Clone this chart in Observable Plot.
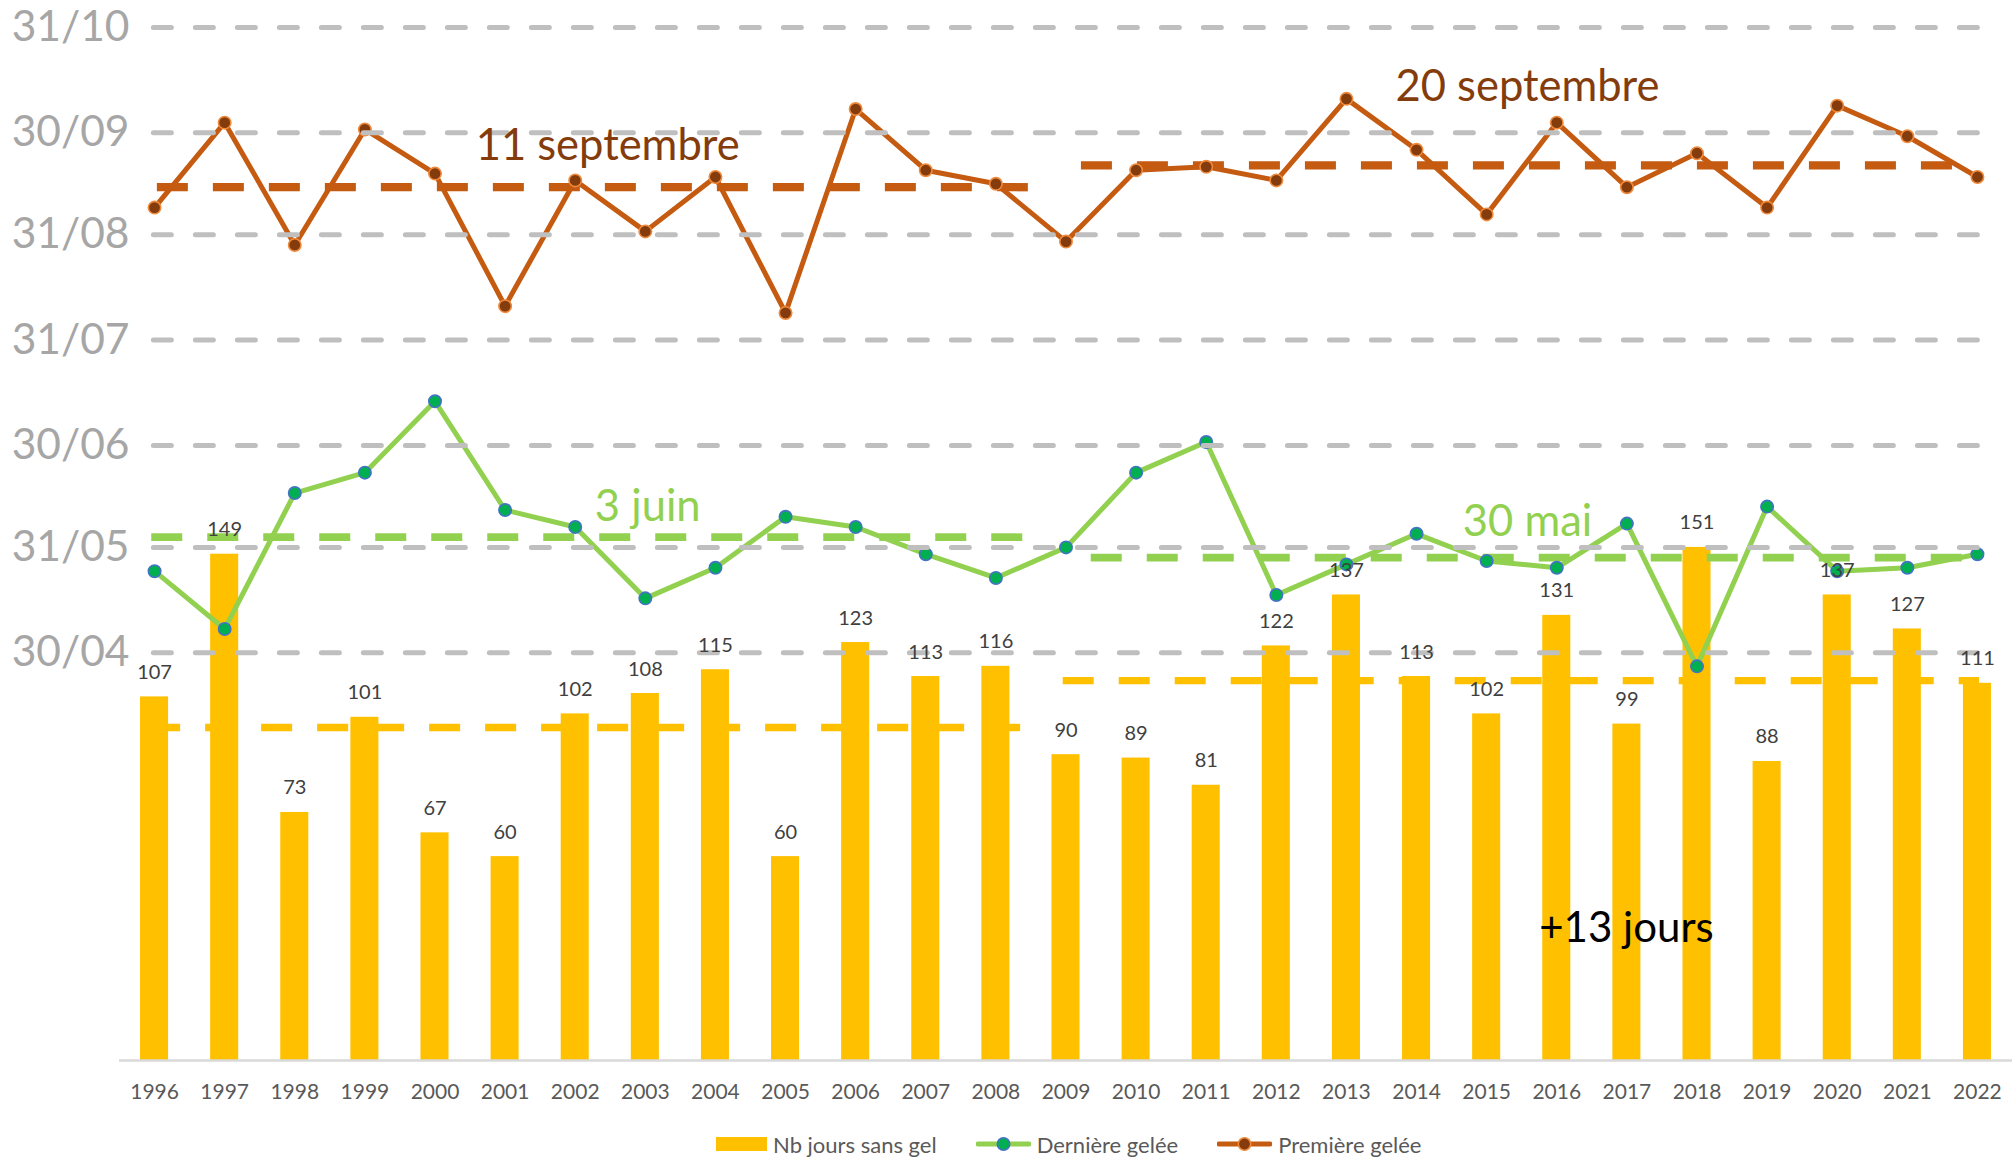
<!DOCTYPE html>
<html>
<head>
<meta charset="utf-8">
<script src="https://cdn.jsdelivr.net/npm/d3@7"></script>
<script src="https://cdn.jsdelivr.net/npm/@observablehq/plot@0.6"></script>
<style>
  html, body { margin: 0; padding: 0; background: #fff; }
  body { width: 2012px; height: 1159px; position: relative; overflow: hidden; font-family: Lato, "Open Sans", sans-serif; }
  #chart svg { display: block; }
  #legend { position: absolute; left: 716px; top: 1128px; height: 32px; display: flex; align-items: center; font-size: 22px; color: #595959; white-space: nowrap; }
  #legend .item { display: flex; align-items: center; margin-right: 39px; }
  #legend .item span { margin-left: 6px; }
</style>
</head>
<body>
<div id="chart"></div>
<div id="legend"></div>
<script>
// ---- Données ----
const years = [1996,1997,1998,1999,2000,2001,2002,2003,2004,2005,2006,2007,2008,2009,2010,2011,2012,2013,2014,2015,2016,2017,2018,2019,2020,2021,2022];
// Nombre de jours sans gel
const joursSansGel = [107,149,73,101,67,60,102,108,115,60,123,113,116,90,89,81,122,137,113,102,131,99,151,88,137,127,111];
// Dernière gelée de printemps (jour de l'année)
const derniereGelee = [144,127,167,173,194,162,157,136,145,160,157,149,142,151,173,182,137,146,155,147,145,158,116,163,144,145,149];
// Première gelée d'automne (jour de l'année)
const premiereGelee = [251,276,240,274,261,222,259,244,260,220,280,262,258,241,262,263,259,283,268,249,276,257,267,251,281,272,260];
// Graduations de dates (jour de l'année) et libellés
const dateTicks = [120,151,181,212,243,273,304];
const dateTickLabels = ["30/04","31/05","30/06","31/07","31/08","30/09","31/10"];
// Moyennes par période (tirets)
const moyennesPremiere = [
  {debut: 1996.04, fin: 2008.47, valeur: 257},
  {debut: 2009.22, fin: 2021.68, valeur: 263.4}
];
const moyennesDerniere = [
  {debut: 1995.96, fin: 2008.39, valeur: 154},
  {debut: 2009.36, fin: 2021.80, valeur: 148}
];
const moyennesJours = [
  {debut: 1995.93, fin: 2008.36, valeur: 98},
  {debut: 2008.96, fin: 2022.03, valeur: 111.8}
];
// Annotations
const annotPremiere = [
  {texte: "11 septembre", annee: 2000.58, jour: 265.1},
  {texte: "20 septembre", annee: 2013.70, jour: 282.5}
];
const annotDerniere = [
  {texte: "3 juin", annee: 2002.28, jour: 158.9},
  {texte: "30 mai", annee: 2014.66, jour: 154.5}
];
const annotJours = [
  {texte: "+13 jours", annee: 2015.75, jour: 34.8}
];
const legendLabels = ["Nb jours sans gel", "Dernière gelée", "Première gelée"];

// ---- Graphique ----
const data = years.map((year, i) => ({year, jours: joursSansGel[i], derniere: derniereGelee[i], premiere: premiereGelee[i]}));

const JAUNE = "#FFC000", VERT = "#92D050", ORANGE = "#C55A11";
const annotFont = 43.5;

const chart = Plot.plot({
  width: 2012,
  height: 1120,
  marginLeft: 119,
  marginRight: 0,
  marginTop: 27,
  marginBottom: 60,
  style: {fontFamily: "Lato, 'Open Sans', sans-serif", background: "white", overflow: "visible"},
  x: {type: "linear", domain: [1995.5, 2022.5], label: null},
  y: {domain: [0, 304], label: null},
  marks: [
    Plot.rectY(data, {x1: d => d.year - 0.2, x2: d => d.year + 0.2, y: "jours", fill: JAUNE}),
    Plot.ruleY([0], {stroke: "#D9D9D9", strokeWidth: 2.5}),
    Plot.ruleY(moyennesJours, {x1: "debut", x2: "fin", y: "valeur", stroke: JAUNE, strokeWidth: 7.3, strokeDasharray: "31,25"}),
    Plot.ruleY(moyennesDerniere, {x1: "debut", x2: "fin", y: "valeur", stroke: VERT, strokeWidth: 7.7, strokeDasharray: "31,25"}),
    Plot.ruleY(moyennesPremiere, {x1: "debut", x2: "fin", y: "valeur", stroke: ORANGE, strokeWidth: 8.3, strokeDasharray: "31,25"}),
    Plot.line(data, {x: "year", y: "derniere", stroke: VERT, strokeWidth: 5}),
    Plot.dot(data, {x: "year", y: "derniere", r: 6.2, fill: "#00B050", stroke: "#4472C4", strokeWidth: 1.6}),
    Plot.line(data, {x: "year", y: "premiere", stroke: ORANGE, strokeWidth: 5}),
    Plot.dot(data, {x: "year", y: "premiere", r: 6.2, fill: "#843C0C", stroke: "#F08A3C", strokeWidth: 1.6}),
    Plot.ruleY(dateTicks, {x1: 1995.99, x2: 2022.01, stroke: "#BFBFBF", strokeWidth: 5, strokeLinecap: "round", strokeDasharray: "18,24"}),
    Plot.text(data, {x: "year", y: "jours", text: d => String(d.jours), dy: -18, lineAnchor: "bottom", fontSize: 20, fill: "#404040"}),
    Plot.text(annotPremiere, {x: "annee", y: "jour", text: "texte", textAnchor: "start", lineAnchor: "bottom", fontSize: annotFont, fill: "#843C0C"}),
    Plot.text(annotDerniere, {x: "annee", y: "jour", text: "texte", textAnchor: "start", lineAnchor: "bottom", fontSize: annotFont, fill: VERT}),
    Plot.text(annotJours, {x: "annee", y: "jour", text: "texte", textAnchor: "start", lineAnchor: "bottom", fontSize: 42, fill: "#000000"}),
    Plot.axisX({ticks: years, tickFormat: d => String(d), tickSize: 0, tickPadding: 24, fontSize: 21, fill: "#595959", label: null}),
    Plot.axisY({ticks: dateTicks, tickFormat: d => dateTickLabels[dateTicks.indexOf(d)], tickSize: 0, tickPadding: -10, fontSize: 42.5, fill: "#A6A6A6", label: null})
  ]
});
document.getElementById("chart").appendChild(chart);

// ---- Légende ----
const legend = document.getElementById("legend");
const symbols = [
  `<svg width="51" height="14"><rect width="51" height="14" fill="${JAUNE}"/></svg>`,
  `<svg width="55" height="16"><line x1="2" x2="53" y1="8" y2="8" stroke="${VERT}" stroke-width="5" stroke-linecap="round"/><circle cx="27.5" cy="8" r="6.2" fill="#00B050" stroke="#4472C4" stroke-width="1.6"/></svg>`,
  `<svg width="55" height="16"><line x1="2" x2="53" y1="8" y2="8" stroke="${ORANGE}" stroke-width="5" stroke-linecap="round"/><circle cx="27.5" cy="8" r="6.2" fill="#843C0C" stroke="#F08A3C" stroke-width="1.6"/></svg>`
];
legendLabels.forEach((lab, i) => {
  const it = document.createElement("div");
  it.className = "item";
  it.innerHTML = symbols[i] + `<span>${lab}</span>`;
  legend.appendChild(it);
});
</script>
</body>
</html>
